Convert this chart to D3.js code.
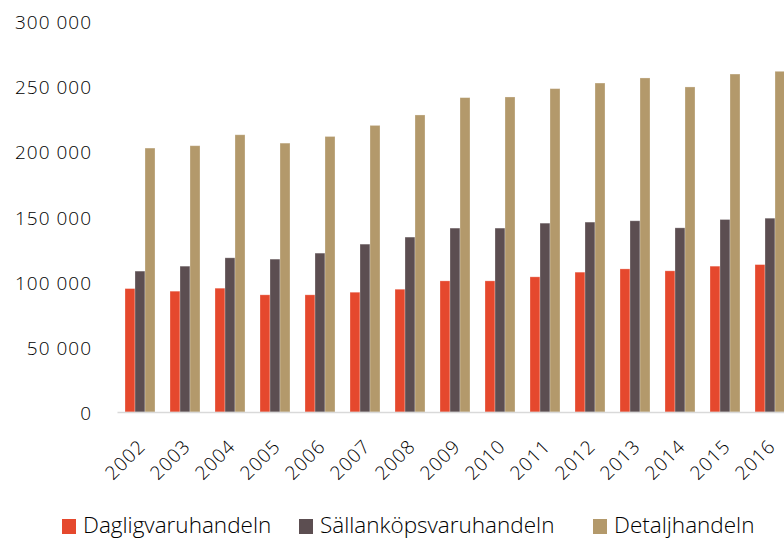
<!DOCTYPE html>
<html>
<head>
<meta charset="utf-8">
<script src="https://cdn.jsdelivr.net/npm/d3@7"></script>
<style>
  body { margin: 0; background: #fff; }
  text { font-family: "Open Sans", "Noto Sans", sans-serif; font-weight: 300; fill: #000; }
</style>
</head>
<body>
<svg id="chart" width="784" height="541"></svg>
<script>
var years = ["2002","2003","2004","2005","2006","2007","2008","2009","2010","2011","2012","2013","2014","2015","2016"];
var series = ["Dagligvaruhandeln", "Sällanköpsvaruhandeln", "Detaljhandeln"];
var dagligvaru = [94700, 92700, 95000, 89900, 89900, 91900, 94200, 100600, 100600, 103700, 107300, 109800, 108300, 111900, 113100];
var sallankop = [108100, 111900, 118300, 117300, 121900, 128800, 134200, 141100, 141100, 144900, 145700, 146700, 141300, 147700, 148700];
var detalj = [202500, 204300, 212700, 206300, 211400, 219900, 227900, 241200, 241700, 248100, 252400, 256300, 249400, 259300, 261400];
var yTicks = [0, 50000, 100000, 150000, 200000, 250000, 300000];
var colors = ["#e5482d", "#5c4e51", "#b3996b"];

var values = [dagligvaru, sallankop, detalj];
var rows = years.map(function(y, i){
  return { year: y, vals: values.map(function(v){ return v[i]; }) };
});

var svg = d3.select("#chart");
var left = 117.5, step = 45;

var x0 = d3.scaleBand()
  .domain(years)
  .range([left, left + step * years.length])
  .paddingInner(1/3)
  .paddingOuter(1/6);

var x1 = d3.scaleBand()
  .domain(d3.range(series.length))
  .range([0, x0.bandwidth()]);

var y = d3.scaleLinear().domain([0, 300000]).range([412, 21]);

var fmt = d3.formatLocale({ decimal: ",", thousands: " ", grouping: [3], currency: ["", ""] }).format(",");

// y labels
svg.append("g").selectAll("text")
  .data(yTicks)
  .enter().append("text")
    .attr("x", 92)
    .attr("y", function(d){ return y(d) + 3; })
    .attr("text-anchor", "end")
    .attr("dominant-baseline", "middle")
    .style("font-size", "19px")
    .style("letter-spacing", "1px")
    .text(function(d){ return fmt(d); });

// bars
var groups = svg.append("g").selectAll("g")
  .data(rows)
  .enter().append("g")
    .attr("transform", function(d){ return "translate(" + x0(d.year) + ",0)"; });

groups.selectAll("rect")
  .data(function(d){ return d.vals.map(function(v, k){ return { k: k, v: v }; }); })
  .enter().append("rect")
    .attr("x", function(d){ return x1(d.k); })
    .attr("width", x1.bandwidth())
    .attr("y", function(d){ return y(d.v); })
    .attr("height", function(d){ return y(0) - y(d.v); })
    .attr("fill", function(d){ return colors[d.k]; })
    .attr("stroke", "#fff")
    .attr("stroke-opacity", 0.35)
    .attr("stroke-width", 0.8);

// baseline
svg.append("line")
  .attr("x1", left).attr("x2", 784)
  .attr("y1", y(0) + 0.5).attr("y2", y(0) + 0.5)
  .attr("stroke", "#d9d9d9")
  .attr("stroke-width", 1.5);

// x labels
svg.append("g").selectAll("text")
  .data(years)
  .enter().append("text")
    .attr("transform", function(d){
      return "translate(" + (x0(d) + x0.bandwidth() / 2 + 3) + ",444) rotate(-45)";
    })
    .attr("text-anchor", "end")
    .attr("dominant-baseline", "middle")
    .style("font-size", "19px")
    .style("letter-spacing", "1px")
    .text(function(d){ return d; });

// legend
var legendX = [62, 299, 593];
var legend = svg.append("g").selectAll("g")
  .data(series)
  .enter().append("g")
    .attr("transform", function(d, i){ return "translate(" + legendX[i] + ",519)"; });

legend.append("rect")
  .attr("width", 14).attr("height", 15)
  .attr("fill", function(d, i){ return colors[i]; });

legend.append("text")
  .attr("x", 21)
  .attr("y", 8)
  .attr("dominant-baseline", "middle")
  .style("font-size", "22.5px")
  .text(function(d){ return d; });
</script>
</body>
</html>
